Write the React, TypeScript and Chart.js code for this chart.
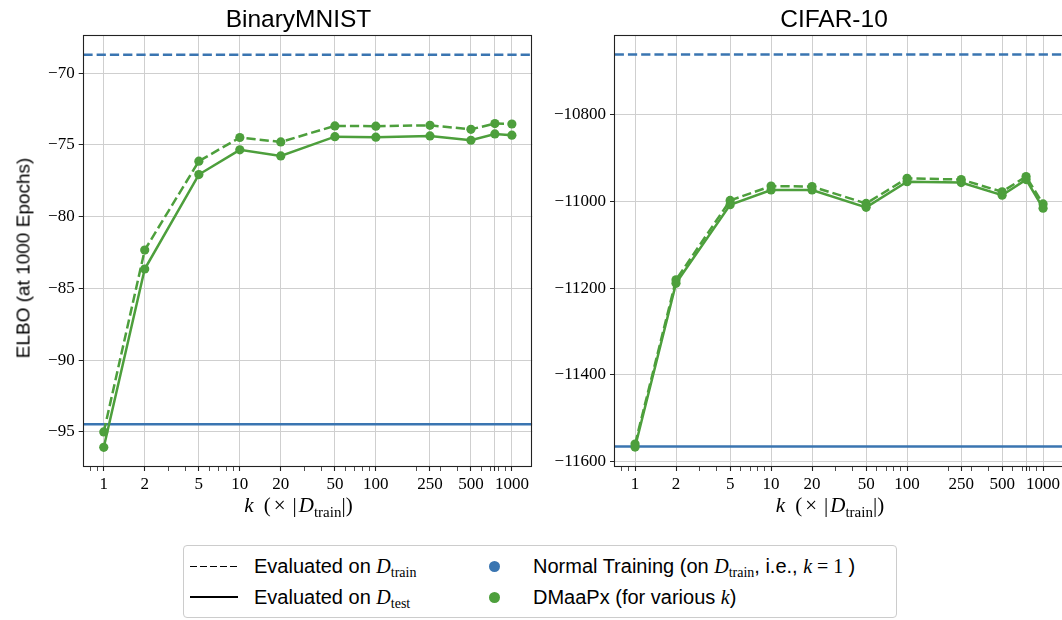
import React, { useEffect, useRef } from 'react';
import { Chart, registerables } from 'chart.js';

Chart.register(...registerables);

// ---------- data ----------
const K_VALUES = [1, 2, 5, 10, 20, 50, 100, 250, 500, 750, 1000];
const X_TICK_LABELS = [1, 2, 5, 10, 20, 50, 100, 250, 500, 1000];
const X_MINOR_TICKS = [0.8, 0.9, 3, 4, 6, 7, 8, 9, 30, 40, 60, 70, 80, 90, 200, 300, 400, 600, 700, 800, 900];
const X_MIN = 0.708;
const X_MAX = 1413;

const MNIST_DMAAPX_TRAIN = [-95.0, -82.33, -76.14, -74.49, -74.8, -73.68, -73.7, -73.64, -73.92, -73.52, -73.55];
const MNIST_DMAAPX_TEST = [-96.07, -83.65, -77.07, -75.35, -75.77, -74.43, -74.47, -74.38, -74.68, -74.24, -74.33];
const MNIST_NORMAL_TRAIN = -68.72;
const MNIST_NORMAL_TEST = -94.47;
const MNIST_Y_TICKS = [-95, -90, -85, -80, -75, -70];
const MNIST_Y_MIN = -97.44;
const MNIST_Y_MAX = -67.35;

const CIFAR_DMAAPX_TRAIN = [-11559, -11181, -10998, -10965, -10966, -11005, -10947, -10950, -10978, -10943, -11006];
const CIFAR_DMAAPX_TEST = [-11566, -11189, -11008, -10974, -10974, -11014, -10955, -10957, -10986, -10950, -11016];
const CIFAR_NORMAL_TRAIN = -10662;
const CIFAR_NORMAL_TEST = -11564.5;
const CIFAR_Y_TICKS = [-11600, -11400, -11200, -11000, -10800];
const CIFAR_Y_MIN = -11612;
const CIFAR_Y_MAX = -10617;

// ---------- style ----------
const GREEN = '#4d9f3c';
const BLUE = '#3a75b1';
const GRID = '#cfcfcf';
const SPINE = '#222222';
const DASH = [9.25, 4];
const SERIF = "'Liberation Serif', 'DejaVu Serif', serif";

Chart.defaults.font.family = SERIF;
Chart.defaults.font.size = 17;
Chart.defaults.color = '#000';

const fmt = (v: number) => (v < 0 ? '\u2212' : '') + String(Math.abs(v));

const framePlugin = {
  id: 'frame',
  afterDraw(chart: any) {
    const { ctx, chartArea } = chart;
    const l = Math.round(chartArea.left) + 0.5;
    const t = Math.round(chartArea.top) + 0.5;
    const r = Math.round(chartArea.right) - 0.5;
    const b = Math.round(chartArea.bottom) - 0.5;
    ctx.save();
    ctx.strokeStyle = SPINE;
    ctx.lineWidth = 1.1;
    ctx.strokeRect(l, t, r - l, b - t);
    ctx.restore();
  },
};

function makeConfig(
  train: number[],
  test: number[],
  normalTrain: number,
  normalTest: number,
  yMin: number,
  yMax: number,
  yTicks: number[],
  yWidth: number,
  padRight: number,
  padBottom: number
): any {
  const pts = (arr: number[]) => K_VALUES.map((k, i) => ({ x: k, y: arr[i] }));
  const hline = (v: number) => [
    { x: X_MIN, y: v },
    { x: X_MAX, y: v },
  ];
  const allX = [...K_VALUES, ...X_MINOR_TICKS].sort((a, b) => a - b);
  return {
    type: 'line',
    data: {
      datasets: [
        {
          label: 'DMaaPx train',
          data: pts(train),
          borderColor: GREEN,
          backgroundColor: GREEN,
          borderWidth: 2.5,
          borderDash: DASH,
          pointRadius: 4.6,
          pointBorderWidth: 0,
          pointBackgroundColor: GREEN,
          tension: 0,
          order: 1,
        },
        {
          label: 'DMaaPx test',
          data: pts(test),
          borderColor: GREEN,
          backgroundColor: GREEN,
          borderWidth: 2.5,
          pointRadius: 4.6,
          pointBorderWidth: 0,
          pointBackgroundColor: GREEN,
          tension: 0,
          order: 0,
        },
        {
          label: 'Normal train',
          data: hline(normalTrain),
          borderColor: BLUE,
          borderWidth: 2.5,
          borderDash: DASH,
          pointRadius: 0,
          order: 3,
        },
        {
          label: 'Normal test',
          data: hline(normalTest),
          borderColor: BLUE,
          borderWidth: 2.5,
          pointRadius: 0,
          order: 2,
        },
      ],
    },
    options: {
      responsive: false,
      animation: false,
      events: [],
      layout: { padding: { top: 35, left: 0, right: padRight, bottom: padBottom } },
      plugins: {
        legend: { display: false },
        tooltip: { enabled: false },
        title: { display: false },
      },
      scales: {
        x: {
          type: 'logarithmic',
          min: X_MIN,
          max: X_MAX,
          afterBuildTicks: (s: any) => {
            s.ticks = allX.map((v) => ({ value: v }));
          },
          afterFit: (s: any) => {
            s.height = 30;
          },
          ticks: {
            autoSkip: false,
            maxRotation: 0,
            minRotation: 0,
            padding: 3,
            color: '#000',
            font: { family: SERIF, size: 17 },
            callback: (v: number) => (X_TICK_LABELS.includes(v) ? String(v) : ''),
          },
          grid: {
            color: (c: any) => (c.tick && K_VALUES.includes(c.tick.value) ? GRID : 'rgba(0,0,0,0)'),
            tickColor: SPINE,
            tickWidth: (c: any) => (c.tick && K_VALUES.includes(c.tick.value) ? 1.1 : 0.8),
            tickLength: 4,
            lineWidth: 1,
          },
          border: { display: false },
        },
        y: {
          type: 'linear',
          min: yMin,
          max: yMax,
          afterBuildTicks: (s: any) => {
            s.ticks = yTicks.map((v) => ({ value: v }));
          },
          afterFit: (s: any) => {
            s.width = yWidth;
          },
          ticks: {
            padding: 4,
            color: '#000',
            font: { family: SERIF, size: 17 },
            callback: (v: number) => fmt(v),
          },
          grid: {
            color: GRID,
            tickColor: SPINE,
            tickLength: 4,
            lineWidth: 1,
          },
          border: { display: false },
        },
      },
    },
    plugins: [framePlugin],
  };
}

const serif: React.CSSProperties = { fontFamily: SERIF };

function DSub({ sub }: { sub: string }) {
  return (
    <>
      <span style={{ ...serif, fontStyle: 'italic' }}>D</span>
      <span style={{ ...serif, fontSize: '0.7em', position: 'relative', top: '0.3em' }}>{sub}</span>
    </>
  );
}

function XLabel({ cx }: { cx: number }) {
  return (
    <div
      style={{
        position: 'absolute',
        left: cx,
        top: 495,
        transform: 'translateX(-50%)',
        whiteSpace: 'nowrap',
        fontFamily: SERIF,
        fontSize: 21,
        lineHeight: '21px',
        color: '#000',
      }}
    >
      <span style={{ fontStyle: 'italic' }}>k</span>
      <span style={{ marginLeft: 10 }}>(</span>
      <span style={{ marginLeft: 3 }}>×</span>
      <span style={{ marginLeft: 7 }}>|</span>
      <span style={{ marginLeft: 2, fontStyle: 'italic' }}>D</span>
      <span style={{ fontSize: 15, position: 'relative', top: 5 }}>train</span>
      <span>|)</span>
    </div>
  );
}

function Title({ cx, text }: { cx: number; text: string }) {
  return (
    <div
      style={{
        position: 'absolute',
        left: cx,
        top: 7,
        transform: 'translateX(-50%)',
        whiteSpace: 'nowrap',
        fontFamily: 'Liberation Sans',
        fontSize: 24.5,
        lineHeight: '24.5px',
        color: '#000',
      }}
    >
      {text}
    </div>
  );
}

export default function App() {
  const leftRef = useRef<HTMLCanvasElement | null>(null);
  const rightRef = useRef<HTMLCanvasElement | null>(null);

  useEffect(() => {
    const c1 = new Chart(
      leftRef.current as HTMLCanvasElement,
      makeConfig(
        MNIST_DMAAPX_TRAIN,
        MNIST_DMAAPX_TEST,
        MNIST_NORMAL_TRAIN,
        MNIST_NORMAL_TEST,
        MNIST_Y_MIN,
        MNIST_Y_MAX,
        MNIST_Y_TICKS,
        82.7,
        7.7,
        23
      )
    );
    const c2 = new Chart(
      rightRef.current as HTMLCanvasElement,
      makeConfig(
        CIFAR_DMAAPX_TRAIN,
        CIFAR_DMAAPX_TEST,
        CIFAR_NORMAL_TRAIN,
        CIFAR_NORMAL_TEST,
        CIFAR_Y_MIN,
        CIFAR_Y_MAX,
        CIFAR_Y_TICKS,
        83,
        7.5,
        23
      )
    );
    return () => {
      c1.destroy();
      c2.destroy();
    };
  }, []);

  const rowText: React.CSSProperties = {
    position: 'absolute',
    whiteSpace: 'nowrap',
    fontFamily: 'Liberation Sans',
    fontSize: 20,
    lineHeight: '20px',
    color: '#000',
  };

  return (
    <div
      style={{
        position: 'fixed',
        left: 0,
        top: 0,
        width: 1062,
        height: 620,
        overflow: 'hidden',
        background: '#fff',
      }}
    >
      <canvas ref={leftRef} width={540} height={520} style={{ position: 'absolute', left: 0, top: 0 }} />
      <canvas ref={rightRef} width={540} height={520} style={{ position: 'absolute', left: 531, top: 0 }} />

      <Title cx={298.5} text="BinaryMNIST" />
      <Title cx={834} text="CIFAR-10" />

      <div
        style={{
          position: 'absolute',
          left: 22.5,
          top: 258,
          transform: 'translate(-50%, -50%) rotate(-90deg)',
          whiteSpace: 'nowrap',
          fontFamily: 'Liberation Sans',
          fontSize: 19,
          lineHeight: '19px',
          color: '#000',
        }}
      >
        ELBO (at 1000 Epochs)
      </div>

      <XLabel cx={298.5} />
      <XLabel cx={830} />

      <div
        style={{
          position: 'absolute',
          left: 183,
          top: 545,
          width: 714,
          height: 73,
          boxSizing: 'border-box',
          border: '1px solid #cccccc',
          borderRadius: 4,
          background: '#fff',
        }}
      >
        <div
          style={{
            position: 'absolute',
            left: 6,
            top: 19.5,
            width: 48,
            height: 1.5,
            background: 'repeating-linear-gradient(to right, #000 0px, #000 7px, transparent 7px, transparent 10px)',
          }}
        />
        <div style={{ position: 'absolute', left: 6, top: 50, width: 48, height: 1.5, background: '#000' }} />
        <div style={{ ...rowText, left: 70, top: 10 }}>
          Evaluated on <DSub sub="train" />
        </div>
        <div style={{ ...rowText, left: 70, top: 41 }}>
          Evaluated on <DSub sub="test" />
        </div>
        <div
          style={{
            position: 'absolute',
            left: 304.5,
            top: 14.5,
            width: 11,
            height: 11,
            borderRadius: '50%',
            background: BLUE,
          }}
        />
        <div
          style={{
            position: 'absolute',
            left: 304.5,
            top: 45.5,
            width: 11,
            height: 11,
            borderRadius: '50%',
            background: GREEN,
          }}
        />
        <div style={{ ...rowText, left: 349, top: 10 }}>
          Normal Training (on <DSub sub="train" />, i.e., <span style={{ ...serif, fontStyle: 'italic' }}>k</span>
          <span style={serif}> = 1 </span>)
        </div>
        <div style={{ ...rowText, left: 349, top: 41 }}>
          DMaaPx (for various <span style={{ ...serif, fontStyle: 'italic' }}>k</span>)
        </div>
      </div>
    </div>
  );
}
